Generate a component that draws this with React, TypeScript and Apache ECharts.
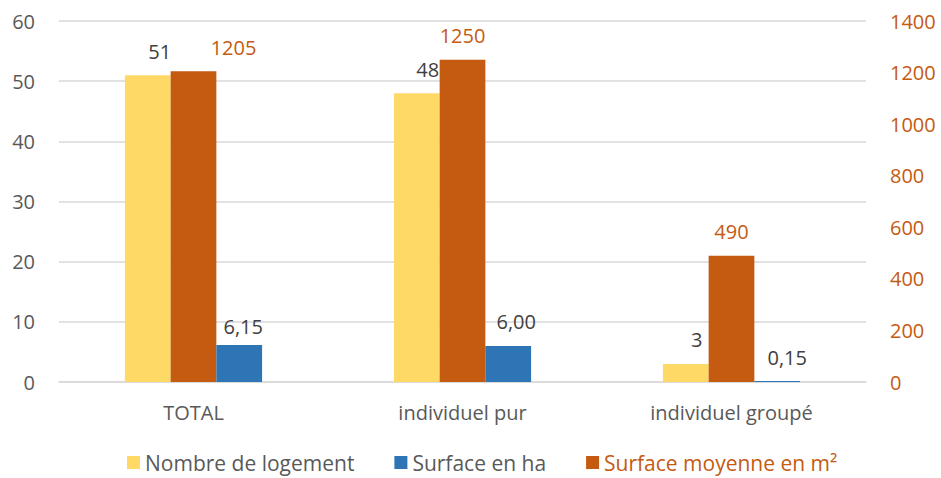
import React, { useEffect, useRef } from "react";
import * as echarts from "echarts";

const categories = ["TOTAL", "individuel pur", "individuel groupé"];
const nombreLogement = [51, 48, 3];
const surfaceHa = [6.15, 6.0, 0.15];
const surfaceMoyenne = [1205, 1250, 490];
const leftTicks = { min: 0, max: 60, interval: 10 };
const rightTicks = { min: 0, max: 1400, interval: 200 };

const FONT = "Open Sans";
const GREY = "#595959";
const YELLOW = "#FFD966";
const ORANGE = "#C55A11";
const BLUE = "#2E75B6";

// label nudges (style only)
const yellowLabelOffset = [[12, 0], [11, 0], [11, 0]];
const orangeLabelOffset = [[40, 0], [0, 0], [0, 0]];
const blueLabelOffset = [[4, 6], [8, 0], [10, 0]];

const fmtComma = (v: number) => v.toFixed(2).replace(".", ",");

export default function App() {
  const ref = useRef<HTMLDivElement>(null);
  useEffect(() => {
    if (!ref.current) return;
    const chart = echarts.init(ref.current, null, { renderer: "svg" });
    const labelBase = {
      show: true,
      position: "top",
      distance: 14,
      fontFamily: FONT,
      fontSize: 20,
    };
    chart.setOption({
      animation: false,
      backgroundColor: "#fff",
      textStyle: { fontFamily: FONT },
      grid: { left: 59, right: 75, top: 21, bottom: 96, containLabel: false },
      legend: {
        left: 122,
        top: 447,
        itemWidth: 13,
        itemHeight: 13,
        itemGap: 40,
        icon: "rect",
        textStyle: { fontFamily: FONT, fontSize: 21, color: GREY },
        data: [
          { name: "Nombre de logement" },
          { name: "Surface en ha" },
          { name: "Surface moyenne en m²", textStyle: { color: ORANGE } },
        ],
      },
      xAxis: {
        type: "category",
        data: categories,
        axisLine: { lineStyle: { color: "#D9D9D9", width: 1.5 } },
        axisTick: { show: false },
        axisLabel: { color: GREY, fontFamily: FONT, fontSize: 20, margin: 20 },
      },
      yAxis: [
        {
          type: "value",
          ...leftTicks,
          position: "left",
          axisLine: { show: false },
          axisTick: { show: false },
          axisLabel: { color: GREY, fontFamily: FONT, fontSize: 20, margin: 24 },
          splitLine: { lineStyle: { color: "#D9D9D9", width: 1.5 } },
        },
        {
          type: "value",
          ...rightTicks,
          position: "right",
          axisLine: { show: false },
          axisTick: { show: false },
          axisLabel: {
            color: ORANGE,
            fontFamily: FONT,
            fontSize: 20,
            margin: 24,
            formatter: (v: number) => String(v),
          },
          splitLine: { show: false },
        },
      ],
      series: [
        {
          name: "Nombre de logement",
          type: "bar",
          yAxisIndex: 0,
          barGap: "0%",
          barCategoryGap: "49%",
          itemStyle: { color: YELLOW },
          data: nombreLogement.map((v, i) => ({
            value: v,
            label: { offset: yellowLabelOffset[i] },
          })),
          label: { ...labelBase, color: "#404040" },
        },
        {
          name: "Surface moyenne en m²",
          type: "bar",
          yAxisIndex: 1,
          barGap: "0%",
          barCategoryGap: "49%",
          itemStyle: { color: ORANGE },
          data: surfaceMoyenne.map((v, i) => ({
            value: v,
            label: { offset: orangeLabelOffset[i] },
          })),
          label: { ...labelBase, color: ORANGE },
        },
        {
          name: "Surface en ha",
          type: "bar",
          yAxisIndex: 0,
          barGap: "0%",
          barCategoryGap: "49%",
          itemStyle: { color: BLUE },
          data: surfaceHa.map((v, i) => ({
            value: v,
            label: { offset: blueLabelOffset[i] },
          })),
          label: {
            ...labelBase,
            color: "#404040",
            formatter: (p: any) => fmtComma(p.value),
          },
        },
      ],
    });
    return () => chart.dispose();
  }, []);
  return (
    <div
      ref={ref}
      style={{ position: "fixed", left: 0, top: 0, width: 941, height: 478 }}
    />
  );
}
